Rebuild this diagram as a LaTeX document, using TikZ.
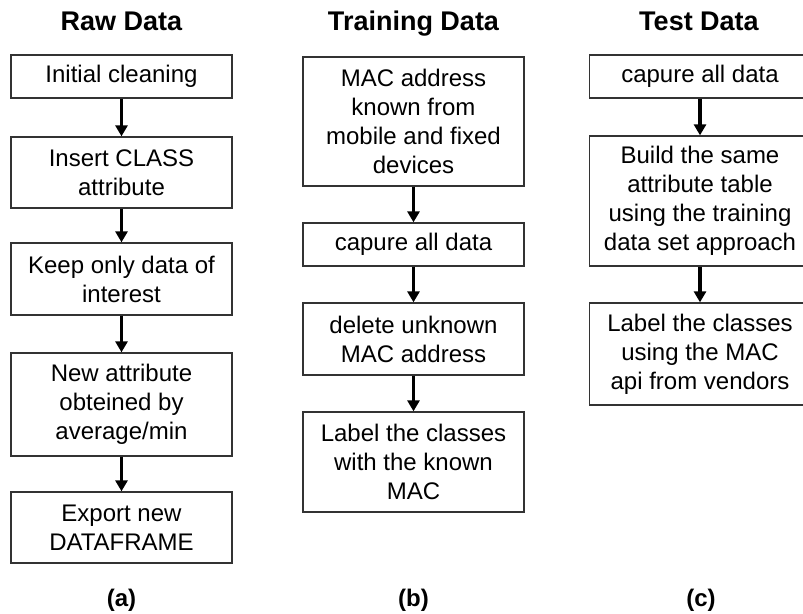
\documentclass[tikz,border=0pt]{standalone}
\usepackage{fontspec}
\setmainfont{Liberation Sans}
\usetikzlibrary{arrows.meta}
\begin{document}
\begin{tikzpicture}[x=1pt,y=-1pt,
  stepbox/.style={draw=black!80, line width=1.3pt, minimum width=221pt, inner sep=0pt,
    align=center, font=\fontsize{24}{29}\selectfont},
  coltitle/.style={font=\fontsize{27}{32}\selectfont\bfseries, inner sep=0pt, anchor=base},
  sublabel/.style={font=\fontsize{24}{29}\selectfont\bfseries, inner sep=0pt},
  flow/.style={line width=3.5pt, -{Triangle[length=11pt,width=12pt]}}]
\clip (0,0) rectangle (803,613);
\fill[white] (0,0) rectangle (803,613);
% column a
\node[coltitle] (ta) at (121.5,30) {Raw Data};
\node[stepbox, minimum height=43pt] (a1) at (121.5,76.5) {Initial cleaning};
\node[stepbox, minimum height=71pt] (a2) at (121.5,172.5) {Insert CLASS\\attribute};
\node[stepbox, minimum height=72pt] (a3) at (121.5,279) {Keep only data of\\interest};
\node[stepbox, minimum height=103pt] (a4) at (121.5,404.5) {New attribute\\obteined by\\average/min};
\node[stepbox, minimum height=71pt] (a5) at (121.5,527.5) {Export new\\DATAFRAME};
\node[sublabel] (la) at (121.5,600) {(a)};
\draw[flow] (a1) -- (a2);
\draw[flow] (a2) -- (a3);
\draw[flow] (a3) -- (a4);
\draw[flow] (a4) -- (a5);
% column b
\node[coltitle] (tb) at (413.5,30) {Training Data};
\node[stepbox, minimum height=129pt] (b1) at (413.5,121.5) {MAC address\\known from\\mobile and fixed\\devices};
\node[stepbox, minimum height=43pt] (b2) at (413.5,244.5) {capure all data};
\node[stepbox, minimum height=72pt] (b3) at (413.5,339) {delete unknown\\MAC address};
\node[stepbox, minimum height=100pt] (b4) at (413.5,462) {Label the classes\\with the known\\MAC};
\node[sublabel] (lb) at (413.5,600) {(b)};
\draw[flow] (b1) -- (b2);
\draw[flow] (b2) -- (b3);
\draw[flow] (b3) -- (b4);
% column c
\node[coltitle] (tc) at (699,30) {Test Data};
\node[stepbox, minimum height=43pt] (c1) at (700,76.5) {capure all data};
\node[stepbox, minimum height=130pt] (c2) at (700,201) {Build the same\\attribute table\\using the training\\data set approach};
\node[stepbox, minimum height=102pt] (c3) at (700,354) {Label the classes\\using the MAC\\api from vendors};
\node[sublabel] (lc) at (701,600) {(c)};
\draw[flow] (c1) -- (c2);
\draw[flow] (c2) -- (c3);
\end{tikzpicture}
\end{document}
